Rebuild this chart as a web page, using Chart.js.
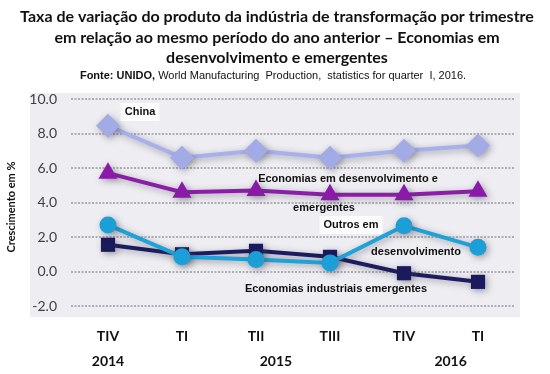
<!DOCTYPE html>
<html><head><meta charset="utf-8">
<script src="https://cdn.jsdelivr.net/npm/chart.js@4/dist/chart.umd.min.js"></script>
<style>html,body{margin:0;padding:0;background:#fff;}#wrap{width:550px;height:374px;position:relative;}</style>
</head><body><div id="wrap"><canvas id="c" width="550" height="374"></canvas></div>
<script>
const categories = ["TIV", "TI", "TII", "TIII", "TIV", "TI"];
const years = ["2014", "2015", "2016"];
const yTicks = [-2, 0, 2, 4, 6, 8, 10];
const china = [8.45, 6.6, 7.0, 6.6, 7.0, 7.3];
const emDesenvolvimento = [5.7, 4.6, 4.7, 4.45, 4.45, 4.65];
const outros = [2.7, 0.85, 0.7, 0.5, 2.65, 1.4];
const industriais = [1.55, 1.0, 1.2, 0.85, -0.1, -0.6];

const titleLines = ["Taxa de variação do produto da indústria de transformação por trimestre",
  "em relação ao mesmo período do ano anterior – Economias em",
  "desenvolvimento e emergentes"];
const sourceBold = "Fonte: UNIDO,";
const sourceRest = " World Manufacturing  Production,  statistics for quarter  I, 2016.";

const notes = [
  {text: "China", x: 140, y: 112, box: true},
  {text: "Economias em desenvolvimento e", x: 348, y: 179},
  {text: "emergentes", x: 324, y: 208},
  {text: "Outros em", x: 351, y: 225, box: true},
  {text: "desenvolvimento", x: 416, y: 252},
  {text: "Economias industriais emergentes", x: 336, y: 289}
];

const bgPlugin = {
  id: 'bg',
  beforeDraw(chart) {
    const ctx = chart.ctx;
    ctx.save();
    ctx.fillStyle = '#eeedf2';
    ctx.fillRect(30, 93, 490, 224);
    ctx.restore();
  },
  beforeDatasetsDraw(chart) {
    const ctx = chart.ctx;
    ctx.save();
    ctx.shadowColor = 'rgba(60,60,80,0.45)';
    ctx.shadowBlur = 7;
    ctx.shadowOffsetX = 2;
    ctx.shadowOffsetY = 2;
  },
  afterDatasetsDraw(chart) {
    const ctx = chart.ctx;
    ctx.restore();
    ctx.save();
    ctx.textAlign = 'center';
    ctx.textBaseline = 'middle';
    ctx.font = 'bold 11px "Liberation Sans", Arial, sans-serif';
    notes.forEach(n => {
      if (n.box) {
        const w = ctx.measureText(n.text).width;
        ctx.fillStyle = 'rgba(255,255,255,0.8)';
        ctx.fillRect(n.x - w/2 - 4, n.y - 9, w + 8, 18);
      }
      ctx.fillStyle = '#111';
      ctx.fillText(n.text, n.x, n.y);
    });
    ctx.restore();
  },
  afterDraw(chart) {
    const ctx = chart.ctx;
    const xs = chart.scales.x;
    ctx.save();
    ctx.fillStyle = '#111';
    ctx.textAlign = 'center';
    ctx.textBaseline = 'middle';
    ctx.font = 'bold 16px Lato, "Open Sans", sans-serif';
    titleLines.forEach((t, i) => ctx.fillText(t, 277, 17 + i * 20.5));
    // source line
    ctx.font = 'bold 11px "Liberation Sans", Arial, sans-serif';
    const wb = ctx.measureText(sourceBold).width;
    ctx.font = '11px "Liberation Sans", Arial, sans-serif';
    const wr = ctx.measureText(sourceRest).width;
    const sx = 273 - (wb + wr) / 2;
    ctx.textAlign = 'left';
    ctx.font = 'bold 11px "Liberation Sans", Arial, sans-serif';
    ctx.fillText(sourceBold, sx, 76);
    ctx.font = '11px "Liberation Sans", Arial, sans-serif';
    ctx.fillText(sourceRest, sx + wb, 76);
    // years
    ctx.textAlign = 'center';
    ctx.font = 'bold 14px Lato, sans-serif';
    const yearPos = [0, 2.27, 4.63];
    years.forEach((y, i) => {
      const p = xs.getPixelForValue(0) + yearPos[i] * (xs.getPixelForValue(1) - xs.getPixelForValue(0));
      ctx.fillText(y, p, 361);
    });
    // y axis title
    ctx.translate(11, 207);
    ctx.rotate(-Math.PI / 2);
    ctx.font = 'bold 11px Lato, sans-serif';
    ctx.fillText("Crescimento em %", 0, 0);
    ctx.restore();
  }
};

new Chart(document.getElementById('c'), {
  type: 'line',
  data: {
    labels: categories,
    datasets: [
      {label: 'China', data: china, borderColor: '#a7b0ea', backgroundColor: '#a2abe6', pointStyle: 'rectRot', pointRadius: 12, borderWidth: 4, order: 4},
      {label: 'Economias em desenvolvimento e emergentes', data: emDesenvolvimento, borderColor: '#8a1fa6', backgroundColor: '#8a1aa8', pointStyle: 'triangle', pointRadius: 11, borderWidth: 4, order: 3},
      {label: 'Economias industriais emergentes', data: industriais, borderColor: '#1c1c5e', backgroundColor: '#1a1a5c', pointStyle: 'rect', pointRadius: 10, borderWidth: 4, order: 2},
      {label: 'Outros em desenvolvimento', data: outros, borderColor: '#1fa2d8', backgroundColor: '#1b9fd6', pointStyle: 'circle', pointRadius: 8.5, borderWidth: 4, order: 1}
    ].map(d => Object.assign(d, {pointBorderWidth: 0, pointHoverBorderWidth: 0})),
  },
  options: {
    responsive: false,
    animation: false,
    layout: {padding: {left: 0, right: 35, top: 99, bottom: 0}},
    plugins: {legend: {display: false}, title: {display: false}, tooltip: {enabled: false}},
    elements: {line: {tension: 0}},
    scales: {
      x: {
        offset: true,
        grid: {display: false},
        border: {display: false},
        ticks: {color: '#111', font: {family: 'Lato', weight: 'bold', size: 14}, padding: 14},
        afterFit(s) { s.height = 68; }
      },
      y: {
        min: -2, max: 10,
        afterBuildTicks(s) { s.ticks = yTicks.map(v => ({value: v})); },
        grid: {color: '#aeaeb2', lineWidth: 2, tickLength: 0},
        border: {display: false, dash: [2, 1.5]},
        ticks: {color: '#404040', font: {family: 'Lato', size: 14}, padding: 14, callback: v => v.toFixed(1)},
        afterFit(s) { s.width = 71; }
      }
    }
  },
  plugins: [bgPlugin]
});
</script></body></html>
